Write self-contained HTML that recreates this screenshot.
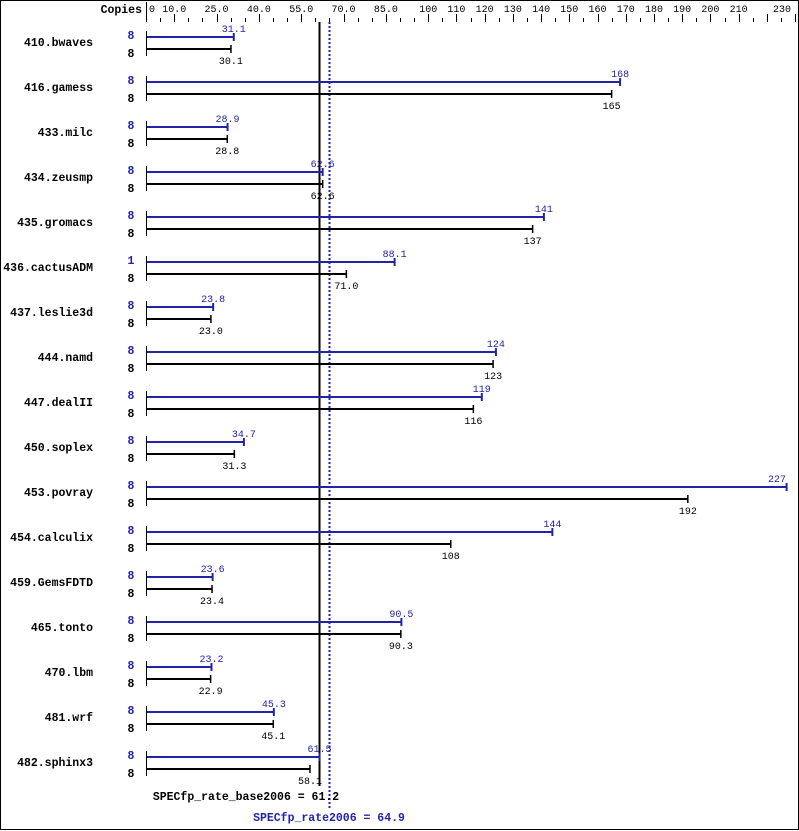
<!DOCTYPE html>
<html><head><meta charset="utf-8"><style>
body{margin:0;background:#fff}
svg{display:block}
text{font-family:"Liberation Mono","DejaVu Sans Mono",monospace}
.lab{font-weight:bold;font-size:11.5px}
.v{font-size:10px}
</style></head><body>
<svg id="s" width="799" height="831" xmlns="http://www.w3.org/2000/svg"></svg>
<script>
var s=document.getElementById('s'),h='';
var X=function(v){return 146+v*2.822;};
h+='<rect x="0.5" y="0.5" width="798" height="829" fill="none" stroke="#000"/>';
h+='<text x="142" y="13" class="lab" text-anchor="end">Copies</text>';
h+='<line x1="146.5" y1="2" x2="146.5" y2="22" stroke="#000"/>';
var labs=[0,10,25,40,55,70,85,100,110,120,130,140,150,160,170,180,190,200,210,230];
labs.forEach(function(v){var x=X(v);var a='middle';if(v==0){x+=3;a='start';}if(v==230){x=791;a='end';}h+='<text x="'+x+'" y="12" class="v" text-anchor="'+a+'">'+(v<100&&v>0?v.toFixed(1):v)+'</text>';});
for(var v=5;v<=230;v+=5){var x=Math.round(X(v))+0.5;var tall=(v<=100?((v-10)%15==0):(v%10==0));h+='<line x1="'+x+'" y1="'+(tall?14:18)+'" x2="'+x+'" y2="22" stroke="#000"/>';}
var d=[["410.bwaves",31.1,30.1,8],["416.gamess",168,165,8],["433.milc",28.9,28.8,8],["434.zeusmp",62.6,62.6,8],["435.gromacs",141,137,8],["436.cactusADM",88.1,71.0,1],["437.leslie3d",23.8,23.0,8],["444.namd",124,123,8],["447.dealII",119,116,8],["450.soplex",34.7,31.3,8],["453.povray",227,192,8],["454.calculix",144,108,8],["459.GemsFDTD",23.6,23.4,8],["465.tonto",90.5,90.3,8],["470.lbm",23.2,22.9,8],["481.wrf",45.3,45.1,8],["482.sphinx3",61.5,58.1,8]];
var fmt=function(v){return v>=100?String(Math.round(v)):v.toFixed(1);};
h+='<line x1="319.5" y1="22" x2="319.5" y2="786" stroke="#000" stroke-width="2"/>';
h+='<line x1="329.5" y1="22" x2="329.5" y2="808" stroke="#2323a8" stroke-width="2" stroke-dasharray="2,2"/>';
d.forEach(function(r,i){
 var yb=37+45*i,yk=49+45*i;
 h+='<text x="93" y="'+(yb+9)+'" class="lab" text-anchor="end">'+r[0]+'</text>';
 h+='<text x="131" y="'+(yb+2)+'" class="lab" fill="#2323a8" text-anchor="middle">'+r[3]+'</text>';
 h+='<text x="131" y="'+(yk+8)+'" class="lab" text-anchor="middle">8</text>';
 h+='<line x1="146.5" y1="'+(yb-6)+'" x2="146.5" y2="'+(yk+7)+'" stroke="#000"/>';
 var xb=X(r[1]),xk=X(r[2]);
 h+='<line x1="147" y1="'+yb+'" x2="'+xb+'" y2="'+yb+'" stroke="#2323a8" stroke-width="2"/>';
 h+='<line x1="'+xb+'" y1="'+(yb-4)+'" x2="'+xb+'" y2="'+(yb+4)+'" stroke="#2323a8" stroke-width="2"/>';
 h+='<line x1="147" y1="'+yk+'" x2="'+xk+'" y2="'+yk+'" stroke="#000" stroke-width="2"/>';
 h+='<line x1="'+xk+'" y1="'+(yk-4)+'" x2="'+xk+'" y2="'+(yk+4)+'" stroke="#000" stroke-width="1.5"/>';
 var tb=Math.min(xb,777);
 h+='<text x="'+tb+'" y="'+(yb-5)+'" class="v" fill="#2323a8" text-anchor="middle">'+fmt(r[1])+'</text>';
 h+='<text x="'+xk+'" y="'+(yk+15)+'" class="v" text-anchor="middle">'+fmt(r[2])+'</text>';
});
h+='<text x="246" y="800" class="lab" text-anchor="middle">SPECfp_rate_base2006 = 61.2</text>';
h+='<text x="329" y="821" class="lab" fill="#2323a8" text-anchor="middle">SPECfp_rate2006 = 64.9</text>';
s.innerHTML=h;
</script>
</body></html>
